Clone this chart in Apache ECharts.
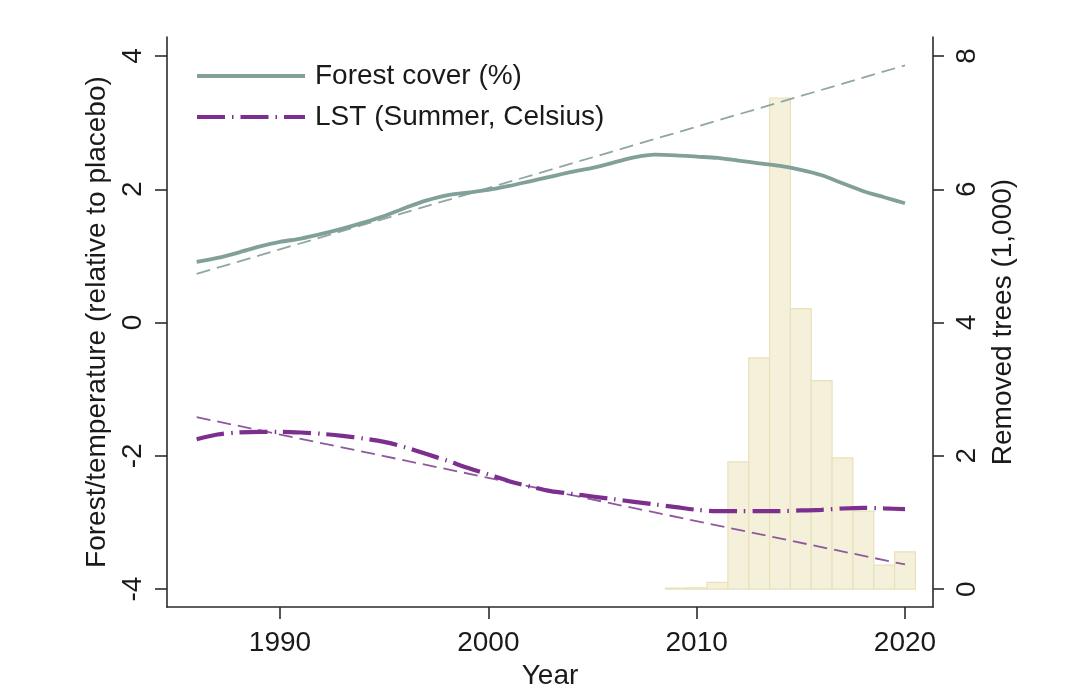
<!DOCTYPE html>
<html>
<head>
<meta charset="utf-8">
<script src="https://cdn.jsdelivr.net/npm/echarts@6/dist/echarts.min.js"></script>
<style>
html,body{margin:0;padding:0;background:#fff;}
#chart{width:1080px;height:695px;}
</style>
</head>
<body>
<div id="chart"></div>
<script>
// ---- data ----
const years = [1986,1987,1988,1989,1990,1991,1992,1993,1994,1995,1996,1997,1998,1999,2000,
  2001,2002,2003,2004,2005,2006,2007,2008,2009,2010,2011,2012,2013,2014,2015,2016,2017,2018,2019,2020];
const forestCover = [0.91,0.97,1.05,1.14,1.21,1.26,1.33,1.41,1.50,1.60,1.72,1.83,1.91,1.95,1.99,
  2.05,2.12,2.19,2.26,2.32,2.40,2.48,2.52,2.51,2.49,2.47,2.43,2.39,2.35,2.29,2.21,2.09,1.97,1.88,1.79];
const lstSummer = [-1.75,-1.68,-1.65,-1.64,-1.64,-1.65,-1.67,-1.70,-1.74,-1.79,-1.87,-1.97,-2.07,-2.18,-2.28,
  -2.38,-2.46,-2.53,-2.57,-2.61,-2.65,-2.69,-2.73,-2.77,-2.81,-2.83,-2.83,-2.83,-2.83,-2.82,-2.81,-2.79,-2.78,-2.79,-2.80];
const fitYears = [1986, 2020];
const forestFit = [0.73, 3.86];
const lstFit = [-1.42, -3.63];
const barYears = [2009,2010,2011,2012,2013,2014,2015,2016,2017,2018,2019,2020];
const removedTrees = [0.015,0.02,0.10,1.91,3.47,7.37,4.21,3.13,1.97,1.17,0.36,0.56];
const xTicks = [1990, 2000, 2010, 2020];
const leftTicks = [-4, -2, 0, 2, 4];
const rightTicks = [0, 2, 4, 6, 8];
const names = {forest: 'Forest cover (%)', lst: 'LST (Summer, Celsius)'};

const zip = (a, b) => a.map((v, i) => [v, b[i]]);
const FONT = 'Liberation Sans, Arial, sans-serif';
const TXT = '#1a1a1a';
const AX = '#2b2b2b';
const FOREST_C = '#82a09a';
const LST_C = '#7d2f8e';
const LST_DASH = [28, 7, 1.5, 7];

const chart = echarts.init(document.getElementById('chart'), null, {renderer: 'canvas'});
chart.setOption({
  backgroundColor: '#ffffff',
  animation: false,
  textStyle: {fontFamily: FONT},
  grid: {left: 167, right: 147, top: 37, bottom: 87, containLabel: false},
  legend: {
    data: [
      {name: names.forest, lineStyle: {width: 4, color: FOREST_C, type: 'solid'}},
      {name: names.lst, lineStyle: {width: 4, color: LST_C, type: LST_DASH}}
    ],
    orient: 'vertical',
    left: 190, top: 57,
    itemWidth: 108, itemHeight: 27, itemGap: 13,
    itemStyle: {opacity: 0},
    textStyle: {fontSize: 28, color: TXT, fontFamily: FONT, padding: [0, 0, 0, 5]},
    selectedMode: false
  },
  xAxis: {
    type: 'value', min: 1984.576, max: 2021.344,
    name: 'Year', nameLocation: 'middle', nameGap: 50,
    nameTextStyle: {fontSize: 28, color: TXT, fontFamily: FONT},
    axisLine: {show: true, onZero: false, lineStyle: {color: AX, width: 1.6}},
    axisTick: {show: true, length: 12, lineStyle: {color: AX, width: 1.6}, customValues: xTicks},
    axisLabel: {fontSize: 28, color: TXT, margin: 22, customValues: xTicks, fontFamily: FONT,
      formatter: v => String(Math.round(v))},
    splitLine: {show: false}
  },
  yAxis: [{
    type: 'value', min: -4.27, max: 4.285, position: 'left',
    name: 'Forest/temperature (relative to placebo)', nameLocation: 'middle', nameGap: 48,
    nameTextStyle: {fontSize: 28, color: TXT, fontFamily: FONT},
    axisLine: {show: true, onZero: false, lineStyle: {color: AX, width: 1.6}},
    axisTick: {show: true, length: 12, lineStyle: {color: AX, width: 1.6}, customValues: leftTicks},
    axisLabel: {fontSize: 28, color: TXT, rotate: 90, margin: 20, customValues: leftTicks, fontFamily: FONT},
    splitLine: {show: false}
  }, {
    type: 'value', min: -0.27, max: 8.285, position: 'right',
    name: 'Removed trees (1,000)', nameLocation: 'middle', nameGap: 51,
    nameTextStyle: {fontSize: 28, color: TXT, fontFamily: FONT},
    axisLine: {show: true, onZero: false, lineStyle: {color: AX, width: 1.6}},
    axisTick: {show: true, length: 11, lineStyle: {color: AX, width: 1.6}, customValues: rightTicks},
    axisLabel: {fontSize: 28, color: TXT, rotate: 90, margin: 20, customValues: rightTicks, fontFamily: FONT},
    splitLine: {show: false}
  }],
  series: [{
    type: 'custom', name: 'Removed trees', yAxisIndex: 1, z: 1,
    data: zip(barYears, removedTrees),
    encode: {x: 0, y: 1},
    renderItem: function (params, api) {
      const x = api.value(0), v = api.value(1);
      const p0 = api.coord([x - 0.5, 0]);
      const p1 = api.coord([x + 0.5, v]);
      return {
        type: 'rect',
        shape: {x: p0[0], y: p1[1], width: p1[0] - p0[0], height: p0[1] - p1[1]},
        style: {fill: '#f4f0da', stroke: '#e8e1bb', lineWidth: 1.2}
      };
    }
  }, {
    type: 'line', name: 'Forest fit', z: 3, symbol: 'none', silent: true,
    data: zip(fitYears, forestFit),
    lineStyle: {color: '#8fa7a1', width: 1.8, type: [14, 7]}
  }, {
    type: 'line', name: 'LST fit', z: 3, symbol: 'none', silent: true,
    data: zip(fitYears, lstFit),
    lineStyle: {color: '#8e5a9c', width: 1.8, type: [14, 7]}
  }, {
    type: 'line', name: names.forest, z: 4, symbol: 'none', smooth: 0.3,
    data: zip(years, forestCover),
    itemStyle: {color: FOREST_C},
    lineStyle: {color: FOREST_C, width: 3.8, type: 'solid'}
  }, {
    type: 'line', name: names.lst, z: 4, symbol: 'none', smooth: 0.3,
    data: zip(years, lstSummer),
    itemStyle: {color: LST_C},
    lineStyle: {color: LST_C, width: 4.2, type: LST_DASH}
  }]
});
</script>
</body>
</html>
